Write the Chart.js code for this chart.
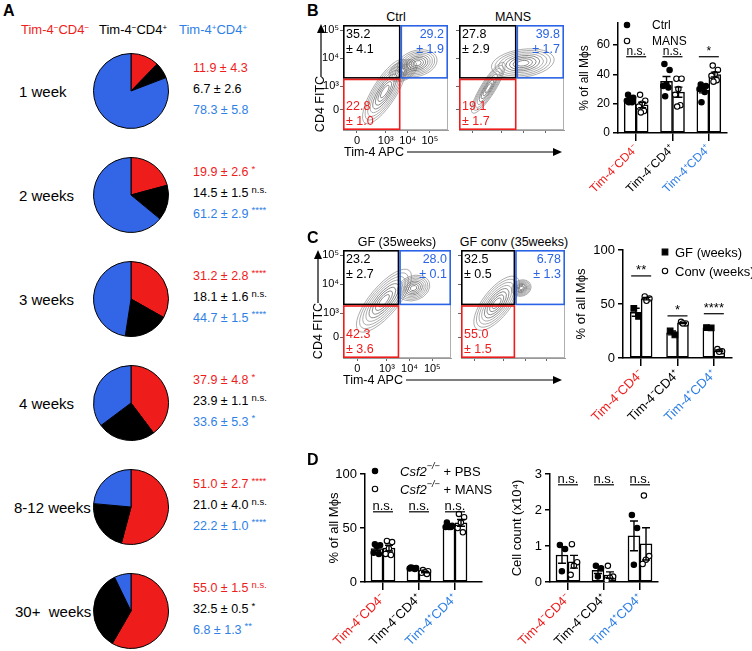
<!DOCTYPE html>
<html>
<head>
<meta charset="utf-8">
<script src="https://cdn.jsdelivr.net/npm/chart.js@4.4.1/dist/chart.umd.min.js"></script>
<style>
html, body { margin: 0; padding: 0; background: #fff; }
#fig { position: relative; width: 752px; height: 651px; overflow: hidden; font-family: 'Liberation Sans', Arial, Helvetica, sans-serif; color: #000; }
.t { position: absolute; white-space: pre; line-height: 1.2; }
.t sup { font-size: 0.62em; vertical-align: 0.5em; line-height: 0; }
.t .sig { font-size: 9.5px; vertical-align: 0.45em; line-height: 0; margin-left: 3px; }
canvas { position: absolute; }
</style>
</head>
<body>
<div id="fig"></div>
<script>
// ---- panel A: pies by age
var PIE_AGES = ['1 week', '2 weeks', '3 weeks', '4 weeks', '8-12 weeks', '30+  weeks'];
var PIE_RED = [11.9, 19.9, 31.2, 37.9, 51.0, 55.0];
var PIE_RED_SD = [4.3, 2.6, 2.8, 4.8, 2.7, 1.5];
var PIE_RED_SIG = ['', '*', '****', '*', '****', 'n.s.'];
var PIE_BLACK = [6.7, 14.5, 18.1, 23.9, 21.0, 32.5];
var PIE_BLACK_SD = [2.6, 1.5, 1.6, 1.1, 4.0, 0.5];
var PIE_BLACK_SIG = ['', 'n.s.', 'n.s.', 'n.s.', 'n.s.', '*'];
var PIE_BLUE = [78.3, 61.2, 44.7, 33.6, 22.2, 6.8];
var PIE_BLUE_SD = [5.8, 2.9, 1.5, 5.3, 1.0, 1.3];
var PIE_BLUE_SIG = ['', '****', '****', '*', '****', '**'];

// ---- flow plots (B, C)
var FLOW_TICKS = [0, 1e3, 1e4, 1e5];
var FLOW_TICK_LABELS = ['0', '10³', '10⁴', '10⁵'];
var B_SAMPLES = ['Ctrl', 'MANS'];
var B_TL = [35.2, 27.8], B_TL_SD = [4.1, 2.9];
var B_TR = [29.2, 39.8], B_TR_SD = [1.9, 1.7];
var B_BL = [22.8, 19.1], B_BL_SD = [1.0, 1.7];
var B_GATE = [4700, 1900];
var C_SAMPLES = ['GF (35weeks)', 'GF conv (35weeks)'];
var C_TL = [23.2, 32.5], C_TL_SD = [2.7, 0.5];
var C_TR = [28.0, 6.78], C_TR_SD = [0.1, 1.3];
var C_BL = [42.3, 55.0], C_BL_SD = [3.6, 1.5];
var C_GATE = [3500, 1900];
// contour populations: [x, y (transformed units), long radius, short radius, tilt deg]
var POPS_B_CTRL = [[2.9, 1.5, 3.9, 1.25, -58], [4.8, 3.2, 1.6, 1.0, -30], [6.3, 3.8, 2.1, 1.35, -15]];
var POPS_B_MANS = [[1.6, 1.8, 3.1, 0.75, -58], [5.2, 3.8, 3.3, 1.45, -8]];
var POPS_C_GF = [[2.7, 2.9, 4.0, 1.45, -50], [5.7, 3.9, 1.7, 1.25, -20]];
var POPS_C_CONV = [[2.3, 2.7, 3.45, 1.45, -52], [4.9, 3.9, 1.05, 0.85, -20]];

// ---- bar charts
var SUBSETS = ['Tim-4⁻CD4⁻', 'Tim-4⁻CD4⁺', 'Tim-4⁺CD4⁺'];
var B_CTRL = [[26, 24, 23, 22, 21, 21], [47, 43, 33, 32, 31, 25], [33, 32, 31, 30, 28, 21]];
var B_MANS = [[26, 22, 20, 18, 15, 14], [37, 37, 30, 26, 19, 18], [46, 43, 40, 39, 36, 35]];
var B_SIG = ['n.s.', 'n.s.', '*'];
var C_GF = [[46, 38.6], [25, 21.4], [28.2, 27.8]];
var C_CONV = [[57, 55, 53], [33.5, 32, 32], [8.3, 6.3, 5.7]];
var C_SIG = ['**', '*', '****'];
var D_PBS_PCT = [[35, 34, 33, 27, 26], [13.5, 13, 13, 12.5, 12], [55, 52, 51, 51, 51]];
var D_MANS_PCT = [[38, 37, 31, 26, 25], [11, 10, 9, 8.5, 7.5], [63, 60, 55, 50, 46]];
var D_PBS_COUNT = [[1.03, 0.92, 0.3], [0.45, 0.38, 0.15], [1.86, 1.5, 0.48]];
var D_MANS_COUNT = [[1.05, 0.55, 0.45, 0.2], [0.45, 0.15, 0.12, 0.05], [2.4, 0.72, 0.62, 0.5]];
var D_SIG = ['n.s.', 'n.s.', 'n.s.'];

var FONT = "'Liberation Sans', Arial, Helvetica, sans-serif";
var RED = '#ef1c1c', BLUE = '#3366e6', BLUE_TXT = '#2f7fe6', GATE_BLUE = '#2a63e6';
var CAT_COLORS = [RED, '#000', BLUE_TXT];

Chart.defaults.font.family = FONT;
Chart.defaults.color = '#000';
Chart.defaults.animation = false;
Chart.defaults.responsive = false;
Chart.defaults.maintainAspectRatio = false;
Chart.defaults.devicePixelRatio = 1;
Chart.defaults.events = [];
Chart.defaults.plugins.legend.display = false;
Chart.defaults.plugins.tooltip.enabled = false;

var fig = document.getElementById('fig');

function canvasAt(left, top, w, h) {
    var c = document.createElement('canvas');
    c.width = w; c.height = h;
    c.style.left = left + 'px'; c.style.top = top + 'px';
    c.style.width = w + 'px'; c.style.height = h + 'px';
    fig.appendChild(c);
    return c;
}

function text(html, x, cy, size, color, align, weight) {
    var d = document.createElement('div');
    d.className = 't';
    d.innerHTML = html;
    d.style.left = x + 'px';
    d.style.top = (cy - size * 0.6) + 'px';
    d.style.fontSize = size + 'px';
    d.style.color = color || '#000';
    if (weight) d.style.fontWeight = weight;
    if (align === 'center') d.style.transform = 'translateX(-50%)';
    if (align === 'right') d.style.transform = 'translateX(-100%)';
    if (align === 'vertical') {
        d.style.top = cy + 'px';
        d.style.transform = 'translate(-50%,-50%) rotate(-90deg)';
    }
    fig.appendChild(d);
    return d;
}

function mean(a) { return a.reduce(function (s, v) { return s + v; }, 0) / a.length; }
function sem(a) {
    var m = mean(a);
    var v = a.reduce(function (s, x) { return s + (x - m) * (x - m); }, 0) / (a.length - 1);
    return Math.sqrt(v / a.length);
}
function jitter(k) { return ((k * 0.618 + 0.25) % 1) * 2 - 1; }
function fmtGate(v) { return v < 10 ? v.toFixed(2) : v.toFixed(1); }
function biexX(v) { return Math.asinh(v / 100); }
function biexY(v) { return Math.asinh(v / 300); }
var FLOW_X_RANGE = [-1.46, 9.5];
var FLOW_Y_RANGE = [-1.63, 6.91];

// ---------------- panel A ----------------
text('A', 3, 11, 16, '#000', 'left', 'bold');
text('Tim-4<sup>−</sup>CD4<sup>−</sup>', 21, 30, 13, RED);
text('Tim-4<sup>−</sup>CD4<sup>+</sup>', 99, 30, 13, '#000');
text('Tim-4<sup>+</sup>CD4<sup>+</sup>', 179, 30, 13, BLUE_TXT);

function sigSpan(s) { return s ? '<span class="sig">' + s + '</span>' : ''; }

PIE_AGES.forEach(function (age, i) {
    var cy = 91 + 104 * i;
    var lab = text(age, 19, cy + 1, 15, '#000');
    var w = lab.offsetWidth;
    if (19 + w > 91) lab.style.left = (91 - w) + 'px';

    var c = canvasAt(92, cy - 39, 78, 78);
    new Chart(c, {
        type: 'pie',
        data: {
            labels: SUBSETS,
            datasets: [{
                data: [PIE_RED[i], PIE_BLACK[i], PIE_BLUE[i]],
                backgroundColor: [RED, '#000', BLUE],
                borderColor: '#000',
                borderWidth: 1
            }]
        },
        options: { layout: { padding: 1 } }
    });

    text(PIE_RED[i].toFixed(1) + ' ± ' + PIE_RED_SD[i].toFixed(1) + sigSpan(PIE_RED_SIG[i]), 193, cy - 22.5, 12.5, RED);
    text(PIE_BLACK[i].toFixed(1) + ' ± ' + PIE_BLACK_SD[i].toFixed(1) + sigSpan(PIE_BLACK_SIG[i]), 193, cy - 1.5, 12.5, '#000');
    text(PIE_BLUE[i].toFixed(1) + ' ± ' + PIE_BLUE_SD[i].toFixed(1) + sigSpan(PIE_BLUE_SIG[i]), 193, cy + 19, 12.5, BLUE_TXT);
});

// ---------------- flow plots ----------------
var flowPlugin = {
    id: 'flow',
    beforeDatasetsDraw: function (chart) {
        var e = chart.canvas.extra, ctx = chart.ctx, a = chart.chartArea;
        var x = chart.scales.x, y = chart.scales.y;
        var ux = Math.abs(x.getPixelForValue(1) - x.getPixelForValue(0));
        ctx.save();
        ctx.beginPath(); ctx.rect(a.left, a.top, a.width, a.height); ctx.clip();
        ctx.lineWidth = 0.7;
        e.pops.forEach(function (p) {
            var cx = x.getPixelForValue(p[0]), cy = y.getPixelForValue(p[1]);
            for (var k = 0; k < 8; k++) {
                var s = 1 - k * 0.115;
                ctx.strokeStyle = k < 4 ? '#8a8a8a' : '#5a5a5a';
                ctx.beginPath();
                ctx.ellipse(cx, cy, p[2] * ux * s, p[3] * ux * s, p[4] * Math.PI / 180, 0, Math.PI * 2);
                ctx.stroke();
            }
        });
        ctx.restore();
    },
    afterDatasetsDraw: function (chart) {
        var e = chart.canvas.extra, ctx = chart.ctx, a = chart.chartArea;
        var gx = chart.scales.x.getPixelForValue(biexX(e.gate[0]));
        var gy = chart.scales.y.getPixelForValue(biexY(e.gate[1]));
        ctx.save();
        ctx.strokeStyle = '#b0b0b0'; ctx.lineWidth = 1;
        ctx.strokeRect(a.left + 0.5, a.top + 0.5, a.width - 1, a.height - 1);
        ctx.lineWidth = 1.6;
        var lw = 0.8;
        function gate(col, x0, y0, x1, y1) {
            ctx.strokeStyle = col;
            ctx.strokeRect(x0 + lw, y0 + lw, x1 - x0 - 2 * lw, y1 - y0 - 2 * lw);
        }
        gate('#000', a.left, a.top, gx, gy);
        gate(GATE_BLUE, gx, a.top, a.right, gy);
        gate(RED, a.left, gy, gx, a.bottom);

        ctx.font = '12.5px ' + FONT;
        ctx.textBaseline = 'top';
        ctx.textAlign = 'left'; ctx.fillStyle = '#000';
        ctx.fillText(fmtGate(e.tl[0]), a.left + 3, a.top + 3);
        ctx.fillText('± ' + e.tl[1].toFixed(1), a.left + 3, a.top + 18);
        ctx.textAlign = 'right'; ctx.fillStyle = GATE_BLUE;
        ctx.fillText(fmtGate(e.tr[0]), a.right - 4, a.top + 3);
        ctx.fillText('± ' + e.tr[1].toFixed(1), a.right - 4, a.top + 18);
        ctx.textAlign = 'left'; ctx.fillStyle = RED; ctx.textBaseline = 'bottom';
        ctx.fillText(fmtGate(e.bl[0]), a.left + 3, a.bottom - 17);
        ctx.fillText('± ' + e.bl[1].toFixed(1), a.left + 3, a.bottom - 2);
        ctx.restore();
    }
};

function flowPanel(box, e) {
    var c = canvasAt(box.left, box.top, box.w, box.h);
    c.extra = e;
    new Chart(c, {
        type: 'scatter',
        data: { datasets: [] },
        options: {
            layout: { padding: { top: box.padTop, right: box.padRight, left: 0, bottom: 0 } },
            scales: {
                x: {
                    type: 'linear', min: FLOW_X_RANGE[0], max: FLOW_X_RANGE[1], bounds: 'data',
                    afterBuildTicks: function (s) { s.ticks = FLOW_TICKS.map(function (v) { return { value: biexX(v) }; }); },
                    afterFit: function (s) { s.height = box.xH; },
                    ticks: { display: e.labels, autoSkip: false, maxRotation: 0, padding: 1, font: { size: 11 },
                        callback: function (v, i) { return FLOW_TICK_LABELS[i]; } },
                    grid: { drawOnChartArea: false, tickLength: 3, color: '#666' },
                    border: { color: '#999' }
                },
                y: {
                    type: 'linear', min: FLOW_Y_RANGE[0], max: FLOW_Y_RANGE[1], bounds: 'data',
                    afterBuildTicks: function (s) { s.ticks = FLOW_TICKS.map(function (v) { return { value: biexY(v) }; }); },
                    afterFit: function (s) { s.width = box.yW; },
                    ticks: { display: e.labels, autoSkip: false, padding: 1, font: { size: 11 },
                        callback: function (v, i) { return FLOW_TICK_LABELS[i]; } },
                    grid: { drawOnChartArea: false, tickLength: 3, color: '#666' },
                    border: { color: '#999' }
                }
            }
        },
        plugins: [flowPlugin]
    });
}

text('B', 307, 11, 16, '#000', 'left', 'bold');
text(B_SAMPLES[0], 396, 17, 12.5, '#000', 'center');
text(B_SAMPLES[1], 513, 17, 12.5, '#000', 'center');
flowPanel({ left: 300, top: 10, w: 150, h: 140, padTop: 15, padRight: 2, yW: 43, xH: 20 },
    { labels: true, gate: B_GATE, pops: POPS_B_CTRL, tl: [B_TL[0], B_TL_SD[0]], tr: [B_TR[0], B_TR_SD[0]], bl: [B_BL[0], B_BL_SD[0]] });
flowPanel({ left: 450, top: 10, w: 116, h: 140, padTop: 15, padRight: 2, yW: 9, xH: 20 },
    { labels: false, gate: B_GATE, pops: POPS_B_MANS, tl: [B_TL[1], B_TL_SD[1]], tr: [B_TR[1], B_TR_SD[1]], bl: [B_BL[1], B_BL_SD[1]] });
text('CD4 FITC', 320, 104, 12.5, '#000', 'vertical');
text('Tim-4 APC', 344, 152, 12.5, '#000');

text('C', 307, 238, 16, '#000', 'left', 'bold');
text(C_SAMPLES[0], 397, 242, 12.5, '#000', 'center');
text(C_SAMPLES[1], 514, 242, 12.5, '#000', 'center');
flowPanel({ left: 300, top: 235, w: 153, h: 145, padTop: 15, padRight: 2, yW: 43, xH: 22 },
    { labels: true, gate: C_GATE, pops: POPS_C_GF, tl: [C_TL[0], C_TL_SD[0]], tr: [C_TR[0], C_TR_SD[0]], bl: [C_BL[0], C_BL_SD[0]] });
flowPanel({ left: 453, top: 235, w: 114, h: 145, padTop: 15, padRight: 2, yW: 8, xH: 22 },
    { labels: false, gate: C_GATE, pops: POPS_C_CONV, tl: [C_TL[1], C_TL_SD[1]], tr: [C_TR[1], C_TR_SD[1]], bl: [C_BL[1], C_BL_SD[1]] });
text('CD4 FITC', 318, 331, 12.5, '#000', 'vertical');
text('Tim-4 APC', 343, 380, 12.5, '#000');

// axis arrows
var ns = 'http://www.w3.org/2000/svg';
var svg = document.createElementNS(ns, 'svg');
svg.setAttribute('width', 752); svg.setAttribute('height', 651);
svg.style.position = 'absolute'; svg.style.left = '0'; svg.style.top = '0';
svg.innerHTML =
    '<g stroke="#000" stroke-width="1.2">' +
    '<line x1="321" y1="77" x2="321" y2="32"/><line x1="407" y1="152" x2="553" y2="152"/>' +
    '<line x1="318" y1="303" x2="318" y2="258"/><line x1="406" y1="380" x2="553" y2="380"/></g>' +
    '<g fill="#000"><polygon points="321,24 317,33 325,33"/><polygon points="562,152 553,148 553,156"/>' +
    '<polygon points="318,250 314,259 322,259"/><polygon points="562,380 553,376 553,384"/></g>';
fig.appendChild(svg);

// ---------------- bar charts ----------------
function drawSegments(ctx, segs, x, y, size) {
    segs.forEach(function (s) {
        var fs = s.sup ? size * 0.7 : size;
        ctx.font = (s.italic ? 'italic ' : '') + fs + 'px ' + FONT;
        ctx.fillText(s.t, x, s.sup ? y - size * 0.4 : y);
        x += ctx.measureText(s.t).width;
    });
}

var barExtras = {
    id: 'barExtras',
    afterDatasetsDraw: function (chart) {
        var e = chart.canvas.extra, ctx = chart.ctx, a = chart.chartArea;
        var x = chart.scales.x, y = chart.scales.y;
        ctx.save();
        ctx.strokeStyle = '#000'; ctx.lineWidth = 1.4;
        e.errors.forEach(function (b) {
            var px = x.getPixelForValue(b.x);
            var top = y.getPixelForValue(b.m + b.e), bot = y.getPixelForValue(b.m - b.e);
            ctx.beginPath();
            ctx.moveTo(px, top); ctx.lineTo(px, bot);
            ctx.moveTo(px - 4, top); ctx.lineTo(px + 4, top);
            ctx.moveTo(px - 4, bot); ctx.lineTo(px + 4, bot);
            ctx.stroke();
        });
        // significance
        ctx.fillStyle = '#000'; ctx.textAlign = 'center'; ctx.textBaseline = 'alphabetic';
        ctx.font = e.font + 'px ' + FONT;
        e.sig.forEach(function (s, g) {
            var px = x.getPixelForValue(g + 1), py = y.getPixelForValue(e.sigLevels[g]);
            ctx.beginPath(); ctx.lineWidth = 1.2;
            ctx.moveTo(px - 10, py); ctx.lineTo(px + 10, py); ctx.stroke();
            ctx.fillText(s, px, py - 2);
        });
        // legend
        if (e.legend) {
            var L = e.legend;
            ctx.textAlign = 'left'; ctx.textBaseline = 'middle';
            e.series.forEach(function (s, i) {
                var mx = a.left + L.dx, my = a.top + L.dy + i * L.row;
                ctx.fillStyle = s.fill; ctx.strokeStyle = '#000'; ctx.lineWidth = 1.1;
                Chart.helpers.drawPoint(ctx, { pointStyle: s.style, radius: s.r, borderWidth: 1.1 }, mx, my);
                ctx.fillStyle = '#000';
                drawSegments(ctx, s.legendText, a.left + L.tx, my + 1, L.size);
            });
        }
        ctx.restore();
    }
};

function barPanel(box, o) {
    var c = canvasAt(box.left, box.top, box.w, box.h);
    var datasets = [], errors = [];
    o.series.forEach(function (s, si) {
        var side = si === 0 ? -1 : 1;
        var centers = s.vals.map(function (_, g) { return g + 1 + side * o.half; });
        var means = s.vals.map(mean);
        datasets.push({
            type: 'bar', label: s.name,
            data: centers.map(function (cx, g) { return { x: cx, y: means[g] }; }),
            backgroundColor: '#fff', borderColor: '#000', borderWidth: 1.5, borderSkipped: false,
            barThickness: o.barW, grouped: false, order: 3
        });
        var pts = [];
        s.vals.forEach(function (vals, g) {
            vals.forEach(function (v, k) { pts.push({ x: centers[g] + jitter(k) * o.half * 0.7, y: v }); });
        });
        datasets.push({
            type: 'scatter', label: s.name, data: pts,
            pointStyle: s.style, pointRadius: s.r, backgroundColor: s.fill,
            borderColor: '#000', borderWidth: 1.1, order: 1
        });
        centers.forEach(function (cx, g) { errors.push({ x: cx, m: means[g], e: sem(s.vals[g]) }); });
    });
    c.extra = { errors: errors, sig: o.sig, sigLevels: o.sigLevels, legend: o.legend, series: o.series, font: o.font };
    new Chart(c, {
        type: 'bar',
        data: { datasets: datasets },
        options: {
            layout: { padding: { top: box.padTop, right: box.padRight, left: 0, bottom: 0 } },
            scales: {
                x: {
                    type: 'linear', min: 0.5, max: o.xMax, offset: false, bounds: 'data',
                    afterBuildTicks: function (s) { s.ticks = SUBSETS.map(function (_, i) { return { value: i + 1 }; }); },
                    afterFit: function (s) { s.height = box.xH; },
                    ticks: {
                        autoSkip: false, minRotation: 45, maxRotation: 45, padding: 1,
                        font: { size: o.font },
                        color: function (ctx) { return CAT_COLORS[ctx.index]; },
                        callback: function (v, i) { return SUBSETS[i]; }
                    },
                    grid: { offset: false, drawOnChartArea: false, tickLength: 8, color: '#000', lineWidth: 1.5 },
                    border: { color: '#000', width: 1.5 }
                },
                y: {
                    min: 0, max: o.yMax, bounds: 'data',
                    afterBuildTicks: function (s) { s.ticks = o.yTicks.map(function (v) { return { value: v }; }); },
                    afterFit: function (s) { s.width = box.yW; },
                    ticks: { font: { size: o.font }, padding: 3 },
                    grid: { drawOnChartArea: false, tickLength: 5, color: '#000', lineWidth: 1.5 },
                    border: { color: '#000', width: 1.5 },
                    title: { display: true, text: o.yTitle, font: { size: o.font }, padding: { top: box.titlePad, bottom: 0 } }
                }
            }
        },
        plugins: [barExtras]
    });
}

var FILLED = { style: 'circle', r: 2.7, fill: '#000' };
var OPEN = { style: 'circle', r: 2.7, fill: '#fff' };

barPanel({ left: 560, top: 0, w: 192, h: 215, padTop: 23, padRight: 25, yW: 58, xH: 82, titlePad: 17 }, {
    font: 12, half: 0.165, barW: 12, xMax: 3.5, yMax: 75, yTicks: [0, 20, 40, 60],
    yTitle: '% of all Mϕs', sig: B_SIG, sigLevels: [52, 52, 52],
    legend: { dx: 9, dy: 2, row: 16, tx: 34, size: 12 },
    series: [
        Object.assign({ name: 'Ctrl', vals: B_CTRL, legendText: [{ t: 'Ctrl' }] }, FILLED),
        Object.assign({ name: 'MANS', vals: B_MANS, legendText: [{ t: 'MANS' }] }, OPEN)
    ]
});

barPanel({ left: 560, top: 215, w: 192, h: 215, padTop: 35, padRight: 20, yW: 63, xH: 72, titlePad: 14 }, {
    font: 13, half: 0.15, barW: 11, xMax: 3.5, yMax: 100, yTicks: [0, 50, 100],
    yTitle: '% of all Mϕs', sig: C_SIG, sigLevels: [76, 39, 41],
    legend: { dx: 42, dy: 2, row: 19, tx: 52, size: 13 },
    series: [
        { name: 'GF (weeks)', vals: C_GF, style: 'rect', r: 4, fill: '#000', legendText: [{ t: 'GF (weeks)' }] },
        Object.assign({ name: 'Conv (weeks)', vals: C_CONV, legendText: [{ t: 'Conv (weeks)' }] }, OPEN)
    ]
});

text('D', 307, 460, 16, '#000', 'left', 'bold');
barPanel({ left: 300, top: 440, w: 200, h: 211, padTop: 34, padRight: 18, yW: 65, xH: 69, titlePad: 27 }, {
    font: 13, half: 0.167, barW: 12, xMax: 3.75, yMax: 100, yTicks: [0, 50, 100],
    yTitle: '% of all Mϕs', sig: D_SIG, sigLevels: [65, 65, 65],
    legend: { dx: 10, dy: -3, row: 18, tx: 35, size: 13 },
    series: [
        Object.assign({ name: 'PBS', vals: D_PBS_PCT, legendText: [{ t: 'Csf2', italic: true }, { t: '−/−', sup: true, italic: true }, { t: ' + PBS' }] }, FILLED),
        Object.assign({ name: 'MANS', vals: D_MANS_PCT, legendText: [{ t: 'Csf2', italic: true }, { t: '−/−', sup: true, italic: true }, { t: ' + MANS' }] }, OPEN)
    ]
});

barPanel({ left: 500, top: 440, w: 252, h: 211, padTop: 34, padRight: 94, yW: 50, xH: 69, titlePad: 10 }, {
    font: 13, half: 0.167, barW: 12, xMax: 3.5, yMax: 3, yTicks: [0, 1, 2, 3],
    yTitle: 'Cell count (x10⁴)', sig: D_SIG, sigLevels: [2.7, 2.7, 2.7],
    legend: null,
    series: [
        Object.assign({ name: 'PBS', vals: D_PBS_COUNT }, FILLED),
        Object.assign({ name: 'MANS', vals: D_MANS_COUNT }, OPEN)
    ]
});
</script>
</body>
</html>
